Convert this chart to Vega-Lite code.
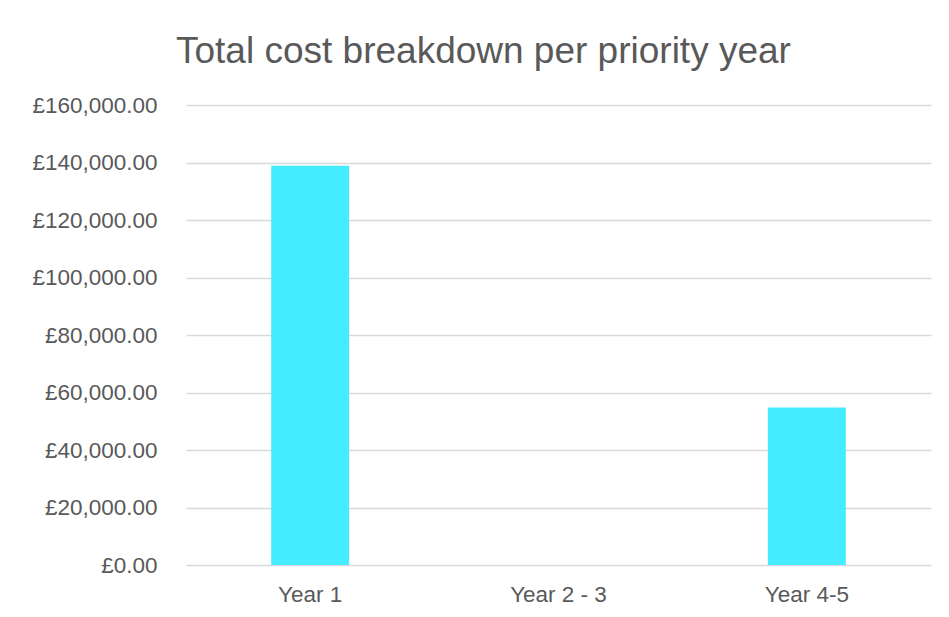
{
  "$schema": "https://vega.github.io/schema/vega-lite/v6.json",
  "autosize": "none",
  "width": 745,
  "height": 460,
  "padding": {"left": 186, "top": 105, "right": 18, "bottom": 52},
  "background": "white",
  "title": {
    "text": "Total cost breakdown per priority year",
    "anchor": "start",
    "frame": "group",
    "dx": -10,
    "baseline": "alphabetic",
    "offset": -6,
    "font": "Liberation Sans",
    "fontSize": 37,
    "fontWeight": "normal",
    "color": "#595959"
  },
  "data": {
    "values": [
      {"period": "Year 1", "cost": 138900},
      {"period": "Year 2 - 3", "cost": 0},
      {"period": "Year 4-5", "cost": 54800}
    ]
  },
  "mark": {"type": "bar", "color": "#45ecff"},
  "encoding": {
    "x": {
      "field": "period",
      "type": "nominal",
      "sort": null,
      "scale": {"paddingInner": 0.686, "paddingOuter": 0.343},
      "axis": {
        "title": null,
        "labelAngle": 0,
        "labelFont": "Liberation Sans",
        "labelFontSize": 22.5,
        "labelColor": "#595959",
        "labelPadding": 18,
        "ticks": false,
        "domain": false,
        "grid": false
      }
    },
    "y": {
      "field": "cost",
      "type": "quantitative",
      "scale": {"domain": [0, 160000], "nice": false},
      "axis": {
        "title": null,
        "values": [0, 20000, 40000, 60000, 80000, 100000, 120000, 140000, 160000],
        "labelExpr": "'£' + format(datum.value, ',.2f')",
        "labelFont": "Liberation Sans",
        "labelFontSize": 22.5,
        "labelColor": "#595959",
        "labelPadding": 29,
        "ticks": false,
        "domain": false,
        "grid": true,
        "gridColor": "#d9d9d9",
        "gridWidth": 1.5
      }
    }
  },
  "config": {
    "view": {"stroke": null}
  }
}
